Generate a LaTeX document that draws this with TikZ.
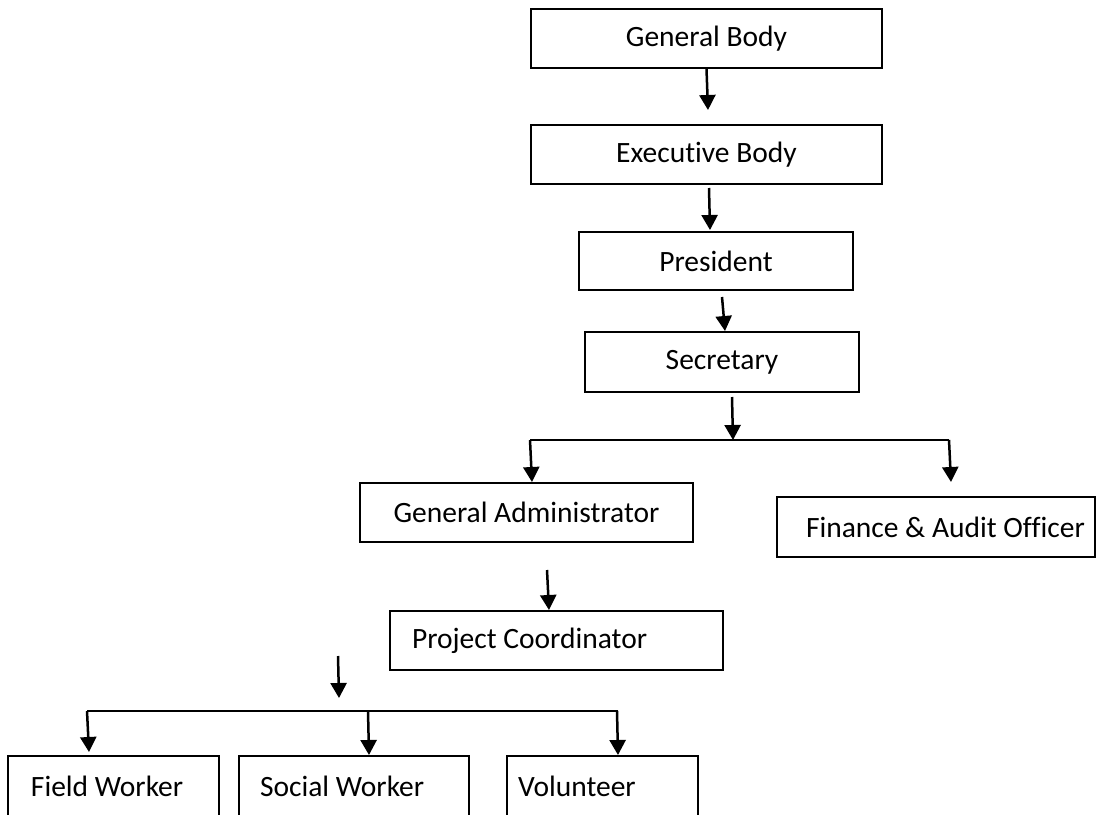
\documentclass[tikz,border=0pt]{standalone}
\usepackage{fontspec}
\setmainfont{Carlito}[Ligatures=NoCommon]
\usetikzlibrary{arrows.meta}
\begin{document}
\begin{tikzpicture}[x=1pt,y=-1pt,
  box/.style={draw=black, line width=2.2pt, rectangle, inner sep=0pt,
    font=\fontsize{29.5}{34}\selectfont, align=center},
  lbox/.style={box, align=flush left},
  arr/.style={line width=2.5pt, -{Triangle[width=16pt,length=15pt]}},
  bus/.style={line width=2.5pt}]
\useasboundingbox (0,0) rectangle (1097,814);
\clip (0,0) rectangle (1097,814);
% boxes
\node[box, minimum width=351pt, minimum height=59pt] (gb) at (706.5,38.5) {General Body};
\node[box, minimum width=351pt, minimum height=59pt] (eb) at (706.5,154.5) {Executive Body};
\node[box, minimum width=274pt, minimum height=58pt] (pres) at (716,261) {President};
\node[box, minimum width=274pt, minimum height=60pt] (sec) at (722,362) {Secretary};
\node[box, minimum width=333pt, minimum height=59pt] (ga) at (526.5,512.5) {General Administrator};
\node[lbox, minimum height=60pt, text width=318pt] (fin) at (936,527) {\hspace*{29pt}Finance \& Audit Officer};
\node[lbox, minimum height=59pt, text width=333pt] (pc) at (556.5,640.5) {\hspace*{22pt}Project Coordinator};
\node[lbox, minimum height=60pt, text width=211pt] (fw) at (113.5,786) {\hspace*{23pt}Field Worker};
\node[lbox, minimum height=60pt, text width=230pt] (sw) at (354,786) {\hspace*{21pt}Social Worker};
\node[lbox, minimum height=60pt, text width=191pt] (vol) at (602.5,786) {\hspace*{11pt}Volunteer};
% connector points
\coordinate (a1e) at (708,110);
\coordinate (a2s) at (709,188);
\coordinate (a2e) at (710,230);
\coordinate (a3s) at (722,297);
\coordinate (a3e) at (725,331);
\coordinate (a4s) at (732,397);
\coordinate (j1) at (733,440);
\coordinate (j1l) at (530,440);
\coordinate (j1r) at (949,440);
\coordinate (gain) at (532,482);
\coordinate (finin) at (951,482);
\coordinate (a5s) at (547,570);
\coordinate (a5e) at (549,610);
\coordinate (a6s) at (338,656);
\coordinate (a6e) at (339,698);
\coordinate (j2l) at (87,711);
\coordinate (j2m) at (368,711);
\coordinate (j2v) at (617,711);
\coordinate (j2r) at (618,711);
\coordinate (fwin) at (89,752);
\coordinate (swin) at (369,755);
\coordinate (volin) at (618,755);
% connectors
\draw[arr] (gb.south) -- (a1e);
\draw[arr] (a2s) -- (a2e);
\draw[arr] (a3s) -- (a3e);
\draw[arr] (a4s) -- (j1);
\draw[bus] (j1l) -- (j1r);
\draw[arr] (j1l) -- (gain);
\draw[arr] (j1r) -- (finin);
\draw[arr] (a5s) -- (a5e);
\draw[arr] (a6s) -- (a6e);
\draw[bus] (j2l) -- (j2r);
\draw[arr] (j2l) -- (fwin);
\draw[arr] (j2m) -- (swin);
\draw[arr] (j2v) -- (volin);
\end{tikzpicture}
\end{document}
